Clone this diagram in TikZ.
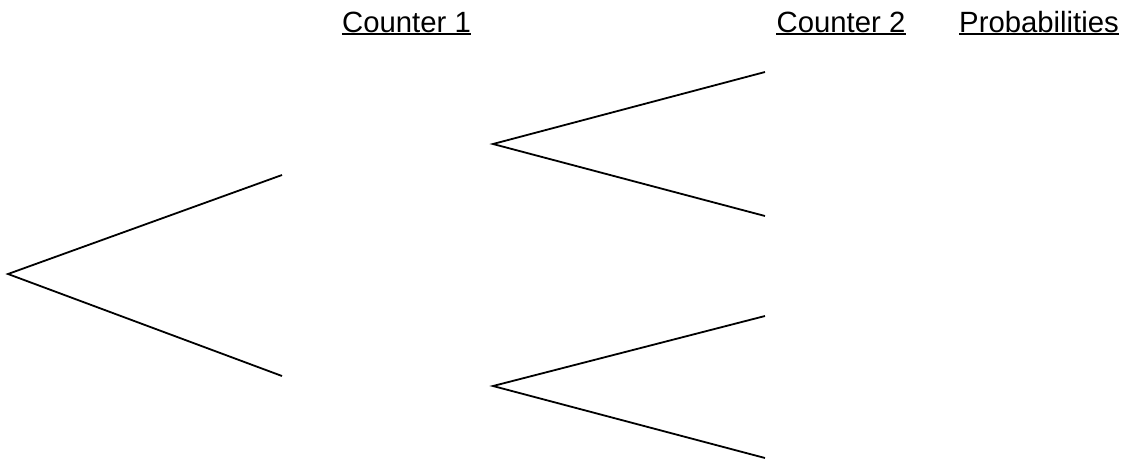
\documentclass[tikz,border=0pt]{standalone}
\usepackage{fontspec}
\setmainfont{Liberation Sans}
\begin{document}
\begin{tikzpicture}[x=1pt,y=-1pt,
  branch/.style={line width=1.8pt,line cap=butt},
  head/.style={inner sep=0pt,anchor=base,font=\fontsize{29.3}{32}\selectfont},
  ul/.style={line width=2.5pt}]
\useasboundingbox (0,0) rectangle (1121,464);
\coordinate (r) at (8,274);
\coordinate (a) at (282,175);
\coordinate (b) at (282,376);
\coordinate (c) at (493,144);
\coordinate (d) at (493,386);
\coordinate (e1) at (765,72);
\coordinate (e2) at (765,216);
\coordinate (e3) at (765,316);
\coordinate (e4) at (765,458);
\draw[branch] (a) -- (r) -- (b);
\draw[branch] (e1) -- (c) -- (e2);
\draw[branch] (e3) -- (d) -- (e4);
\node[head] (c1) at (406.5,32) {Counter 1};
\node[head] (c2) at (841,32) {Counter 2};
\node[head] (pr) at (1039,32) {Probabilities};
\foreach \n in {c1,c2,pr}
  \draw[ul] ([yshift=-2.2pt]\n.base west) -- ([yshift=-2.2pt]\n.base east);
\end{tikzpicture}
\end{document}
